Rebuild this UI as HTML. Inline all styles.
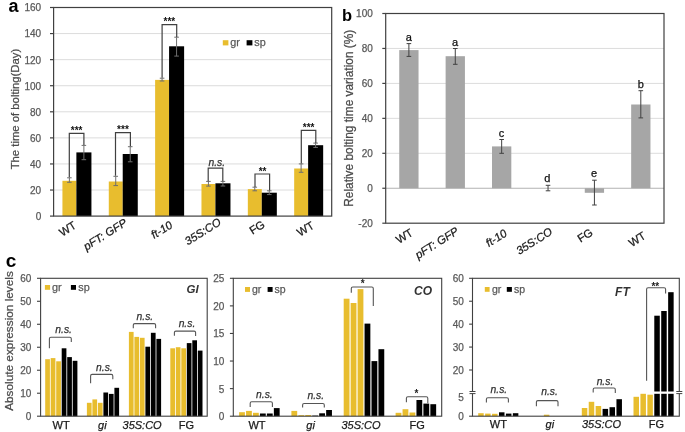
<!DOCTYPE html>
<html><head><meta charset="utf-8"><style>
html,body{margin:0;padding:0;background:#fff;}
svg{display:block;font-family:"Liberation Sans", sans-serif;will-change:transform;}
</style></head><body>
<svg width="685" height="432" viewBox="0 0 685 432">
<rect x="0" y="0" width="685" height="432" fill="#fff"/>
<line x1="53.60" y1="190.03" x2="331.70" y2="190.03" stroke="#DCDCDC" stroke-width="1" />
<line x1="53.60" y1="163.95" x2="331.70" y2="163.95" stroke="#DCDCDC" stroke-width="1" />
<line x1="53.60" y1="137.88" x2="331.70" y2="137.88" stroke="#DCDCDC" stroke-width="1" />
<line x1="53.60" y1="111.80" x2="331.70" y2="111.80" stroke="#DCDCDC" stroke-width="1" />
<line x1="53.60" y1="85.72" x2="331.70" y2="85.72" stroke="#DCDCDC" stroke-width="1" />
<line x1="53.60" y1="59.65" x2="331.70" y2="59.65" stroke="#DCDCDC" stroke-width="1" />
<line x1="53.60" y1="33.57" x2="331.70" y2="33.57" stroke="#DCDCDC" stroke-width="1" />
<rect x="62.43" y="180.80" width="13.95" height="35.30" fill="#E8BD2E"/>
<rect x="76.38" y="152.40" width="15.05" height="63.70" fill="#000000"/>
<rect x="108.78" y="181.50" width="13.95" height="34.60" fill="#E8BD2E"/>
<rect x="122.72" y="154.00" width="15.05" height="62.10" fill="#000000"/>
<rect x="155.12" y="79.90" width="13.95" height="136.20" fill="#E8BD2E"/>
<rect x="169.07" y="46.30" width="15.05" height="169.80" fill="#000000"/>
<rect x="201.47" y="184.00" width="13.95" height="32.10" fill="#E8BD2E"/>
<rect x="215.42" y="183.30" width="15.05" height="32.80" fill="#000000"/>
<rect x="247.83" y="189.10" width="13.95" height="27.00" fill="#E8BD2E"/>
<rect x="261.78" y="192.70" width="15.05" height="23.40" fill="#000000"/>
<rect x="294.17" y="168.50" width="13.95" height="47.60" fill="#E8BD2E"/>
<rect x="308.12" y="145.20" width="15.05" height="70.90" fill="#000000"/>
<line x1="69.38" y1="177.80" x2="69.38" y2="182.30" stroke="#6E6E6E" stroke-width="1" />
<line x1="67.08" y1="177.80" x2="71.67" y2="177.80" stroke="#6E6E6E" stroke-width="1" />
<line x1="67.08" y1="182.30" x2="71.67" y2="182.30" stroke="#6E6E6E" stroke-width="1" />
<line x1="83.88" y1="145.40" x2="83.88" y2="159.70" stroke="#6E6E6E" stroke-width="1" />
<line x1="81.58" y1="145.40" x2="86.17" y2="145.40" stroke="#6E6E6E" stroke-width="1" />
<line x1="81.58" y1="159.70" x2="86.17" y2="159.70" stroke="#6E6E6E" stroke-width="1" />
<line x1="115.72" y1="176.30" x2="115.72" y2="185.60" stroke="#6E6E6E" stroke-width="1" />
<line x1="113.42" y1="176.30" x2="118.02" y2="176.30" stroke="#6E6E6E" stroke-width="1" />
<line x1="113.42" y1="185.60" x2="118.02" y2="185.60" stroke="#6E6E6E" stroke-width="1" />
<line x1="130.22" y1="146.70" x2="130.22" y2="161.80" stroke="#6E6E6E" stroke-width="1" />
<line x1="127.92" y1="146.70" x2="132.53" y2="146.70" stroke="#6E6E6E" stroke-width="1" />
<line x1="127.92" y1="161.80" x2="132.53" y2="161.80" stroke="#6E6E6E" stroke-width="1" />
<line x1="162.07" y1="78.20" x2="162.07" y2="81.00" stroke="#6E6E6E" stroke-width="1" />
<line x1="159.77" y1="78.20" x2="164.38" y2="78.20" stroke="#6E6E6E" stroke-width="1" />
<line x1="159.77" y1="81.00" x2="164.38" y2="81.00" stroke="#6E6E6E" stroke-width="1" />
<line x1="176.57" y1="37.20" x2="176.57" y2="56.10" stroke="#6E6E6E" stroke-width="1" />
<line x1="174.27" y1="37.20" x2="178.88" y2="37.20" stroke="#6E6E6E" stroke-width="1" />
<line x1="174.27" y1="56.10" x2="178.88" y2="56.10" stroke="#6E6E6E" stroke-width="1" />
<line x1="208.42" y1="181.40" x2="208.42" y2="186.10" stroke="#6E6E6E" stroke-width="1" />
<line x1="206.12" y1="181.40" x2="210.72" y2="181.40" stroke="#6E6E6E" stroke-width="1" />
<line x1="206.12" y1="186.10" x2="210.72" y2="186.10" stroke="#6E6E6E" stroke-width="1" />
<line x1="222.92" y1="181.40" x2="222.92" y2="186.00" stroke="#6E6E6E" stroke-width="1" />
<line x1="220.62" y1="181.40" x2="225.22" y2="181.40" stroke="#6E6E6E" stroke-width="1" />
<line x1="220.62" y1="186.00" x2="225.22" y2="186.00" stroke="#6E6E6E" stroke-width="1" />
<line x1="254.78" y1="187.20" x2="254.78" y2="190.80" stroke="#6E6E6E" stroke-width="1" />
<line x1="252.47" y1="187.20" x2="257.07" y2="187.20" stroke="#6E6E6E" stroke-width="1" />
<line x1="252.47" y1="190.80" x2="257.07" y2="190.80" stroke="#6E6E6E" stroke-width="1" />
<line x1="269.28" y1="190.80" x2="269.28" y2="194.60" stroke="#6E6E6E" stroke-width="1" />
<line x1="266.98" y1="190.80" x2="271.58" y2="190.80" stroke="#6E6E6E" stroke-width="1" />
<line x1="266.98" y1="194.60" x2="271.58" y2="194.60" stroke="#6E6E6E" stroke-width="1" />
<line x1="301.12" y1="163.90" x2="301.12" y2="172.30" stroke="#6E6E6E" stroke-width="1" />
<line x1="298.82" y1="163.90" x2="303.43" y2="163.90" stroke="#6E6E6E" stroke-width="1" />
<line x1="298.82" y1="172.30" x2="303.43" y2="172.30" stroke="#6E6E6E" stroke-width="1" />
<line x1="315.62" y1="143.10" x2="315.62" y2="147.40" stroke="#6E6E6E" stroke-width="1" />
<line x1="313.32" y1="143.10" x2="317.93" y2="143.10" stroke="#6E6E6E" stroke-width="1" />
<line x1="313.32" y1="147.40" x2="317.93" y2="147.40" stroke="#6E6E6E" stroke-width="1" />
<path d="M69.30,177.30 L69.30,133.40 L83.90,133.40 L83.90,145.00" fill="none" stroke="#404040" stroke-width="1.2" stroke-linejoin="miter"/>
<text x="70.80" y="134.25" font-size="10" fill="#111" stroke="#111" stroke-width="0" font-weight="bold">***</text>
<path d="M115.50,175.80 L115.50,132.60 L130.40,132.60 L130.40,146.30" fill="none" stroke="#404040" stroke-width="1.2" stroke-linejoin="miter"/>
<text x="117.10" y="133.40" font-size="10" fill="#111" stroke="#111" stroke-width="0" font-weight="bold">***</text>
<path d="M162.10,77.80 L162.10,24.60 L176.70,24.60 L176.70,37.00" fill="none" stroke="#404040" stroke-width="1.2" stroke-linejoin="miter"/>
<text x="163.55" y="25.30" font-size="10" fill="#111" stroke="#111" stroke-width="0" font-weight="bold">***</text>
<path d="M208.20,181.20 L208.20,168.10 L222.80,168.10 L222.80,181.20" fill="none" stroke="#404040" stroke-width="1.2" stroke-linejoin="miter"/>
<text x="208.45" y="165.55" font-size="10.3" fill="#333" stroke="#333" stroke-width="0.25" font-style="italic">n.s.</text>
<path d="M255.00,187.00 L255.00,174.00 L269.60,174.00 L269.60,190.60" fill="none" stroke="#404040" stroke-width="1.2" stroke-linejoin="miter"/>
<text x="258.65" y="174.95" font-size="10" fill="#111" stroke="#111" stroke-width="0" font-weight="bold">**</text>
<path d="M301.30,163.60 L301.30,130.30 L315.80,130.30 L315.80,142.90" fill="none" stroke="#404040" stroke-width="1.2" stroke-linejoin="miter"/>
<text x="302.80" y="131.30" font-size="10" fill="#111" stroke="#111" stroke-width="0" font-weight="bold">***</text>
<rect x="53.60" y="7.50" width="278.10" height="208.60" fill="none" stroke="#404040" stroke-width="1.2"/>
<line x1="50.00" y1="216.10" x2="53.60" y2="216.10" stroke="#404040" stroke-width="1.2" />
<text x="41.20" y="220.00" font-size="10" fill="#595959" stroke="#595959" stroke-width="0.25" text-anchor="end" >0</text>
<line x1="50.00" y1="190.03" x2="53.60" y2="190.03" stroke="#404040" stroke-width="1.2" />
<text x="41.20" y="193.93" font-size="10" fill="#595959" stroke="#595959" stroke-width="0.25" text-anchor="end" >20</text>
<line x1="50.00" y1="163.95" x2="53.60" y2="163.95" stroke="#404040" stroke-width="1.2" />
<text x="41.20" y="167.85" font-size="10" fill="#595959" stroke="#595959" stroke-width="0.25" text-anchor="end" >40</text>
<line x1="50.00" y1="137.88" x2="53.60" y2="137.88" stroke="#404040" stroke-width="1.2" />
<text x="41.20" y="141.78" font-size="10" fill="#595959" stroke="#595959" stroke-width="0.25" text-anchor="end" >60</text>
<line x1="50.00" y1="111.80" x2="53.60" y2="111.80" stroke="#404040" stroke-width="1.2" />
<text x="41.20" y="115.70" font-size="10" fill="#595959" stroke="#595959" stroke-width="0.25" text-anchor="end" >80</text>
<line x1="50.00" y1="85.72" x2="53.60" y2="85.72" stroke="#404040" stroke-width="1.2" />
<text x="41.20" y="89.62" font-size="10" fill="#595959" stroke="#595959" stroke-width="0.25" text-anchor="end" >100</text>
<line x1="50.00" y1="59.65" x2="53.60" y2="59.65" stroke="#404040" stroke-width="1.2" />
<text x="41.20" y="63.55" font-size="10" fill="#595959" stroke="#595959" stroke-width="0.25" text-anchor="end" >120</text>
<line x1="50.00" y1="33.57" x2="53.60" y2="33.57" stroke="#404040" stroke-width="1.2" />
<text x="41.20" y="37.47" font-size="10" fill="#595959" stroke="#595959" stroke-width="0.25" text-anchor="end" >140</text>
<line x1="50.00" y1="7.50" x2="53.60" y2="7.50" stroke="#404040" stroke-width="1.2" />
<text x="41.20" y="11.40" font-size="10" fill="#595959" stroke="#595959" stroke-width="0.25" text-anchor="end" >160</text>
<rect x="222.80" y="40.20" width="5.60" height="5.20" fill="#E8BD2E"/>
<text x="230.20" y="46.00" font-size="10.8" fill="#595959" stroke="#595959" stroke-width="0.25" text-anchor="start" >gr</text>
<rect x="246.60" y="40.20" width="5.80" height="5.20" fill="#000000"/>
<text x="254.30" y="46.00" font-size="10.8" fill="#595959" stroke="#595959" stroke-width="0.25" text-anchor="start" >sp</text>
<text x="77.20" y="227.40" font-size="11.3" fill="#1a1a1a" stroke="#1a1a1a" stroke-width="0.25" text-anchor="end" transform="rotate(-32 77.20 227.40)">WT</text>
<text x="127.80" y="224.80" font-size="11.3" fill="#1a1a1a" stroke="#1a1a1a" stroke-width="0.25" text-anchor="end" font-style="italic" transform="rotate(-32 127.80 224.80)">pFT: GFP</text>
<text x="173.30" y="227.10" font-size="11.3" fill="#1a1a1a" stroke="#1a1a1a" stroke-width="0.25" text-anchor="end" font-style="italic" transform="rotate(-32 173.30 227.10)">ft-10</text>
<text x="221.90" y="224.20" font-size="11.3" fill="#1a1a1a" stroke="#1a1a1a" stroke-width="0.25" text-anchor="end" font-style="italic" transform="rotate(-32 221.90 224.20)">35S:CO</text>
<text x="265.80" y="226.50" font-size="11.3" fill="#1a1a1a" stroke="#1a1a1a" stroke-width="0.25" text-anchor="end" transform="rotate(-32 265.80 226.50)">FG</text>
<text x="315.00" y="227.50" font-size="11.3" fill="#1a1a1a" stroke="#1a1a1a" stroke-width="0.25" text-anchor="end" transform="rotate(-32 315.00 227.50)">WT</text>
<text x="18.70" y="109.05" font-size="11.3" fill="#4a4a4a" stroke="#4a4a4a" stroke-width="0.25" text-anchor="middle" transform="rotate(-90 18.70 109.05)">The time of bolting(Day)</text>
<text x="8.60" y="11.80" font-size="18" fill="#000" stroke="#000" stroke-width="0" font-weight="bold">a</text>
<line x1="385.70" y1="188.25" x2="664.00" y2="188.25" stroke="#B3B3B3" stroke-width="1" />
<line x1="385.70" y1="153.30" x2="664.00" y2="153.30" stroke="#DCDCDC" stroke-width="1" />
<line x1="385.70" y1="118.35" x2="664.00" y2="118.35" stroke="#DCDCDC" stroke-width="1" />
<line x1="385.70" y1="83.40" x2="664.00" y2="83.40" stroke="#DCDCDC" stroke-width="1" />
<line x1="385.70" y1="48.45" x2="664.00" y2="48.45" stroke="#DCDCDC" stroke-width="1" />
<rect x="399.24" y="50.10" width="19.30" height="138.15" fill="#A6A6A6"/>
<rect x="445.62" y="56.20" width="19.30" height="132.05" fill="#A6A6A6"/>
<rect x="492.01" y="146.40" width="19.30" height="41.85" fill="#A6A6A6"/>
<rect x="584.77" y="188.25" width="19.30" height="4.55" fill="#A6A6A6"/>
<rect x="631.16" y="104.50" width="19.30" height="83.75" fill="#A6A6A6"/>
<line x1="408.89" y1="43.60" x2="408.89" y2="56.40" stroke="#404040" stroke-width="1" />
<line x1="406.59" y1="43.60" x2="411.19" y2="43.60" stroke="#404040" stroke-width="1" />
<line x1="406.59" y1="56.40" x2="411.19" y2="56.40" stroke="#404040" stroke-width="1" />
<text x="405.64" y="40.60" font-size="11" fill="#111" stroke="#111" stroke-width="0.25">a</text>
<line x1="455.27" y1="48.50" x2="455.27" y2="64.30" stroke="#404040" stroke-width="1" />
<line x1="452.97" y1="48.50" x2="457.57" y2="48.50" stroke="#404040" stroke-width="1" />
<line x1="452.97" y1="64.30" x2="457.57" y2="64.30" stroke="#404040" stroke-width="1" />
<text x="452.02" y="45.50" font-size="11" fill="#111" stroke="#111" stroke-width="0.25">a</text>
<line x1="501.66" y1="139.50" x2="501.66" y2="153.30" stroke="#404040" stroke-width="1" />
<line x1="499.36" y1="139.50" x2="503.96" y2="139.50" stroke="#404040" stroke-width="1" />
<line x1="499.36" y1="153.30" x2="503.96" y2="153.30" stroke="#404040" stroke-width="1" />
<text x="498.86" y="136.50" font-size="11" fill="#111" stroke="#111" stroke-width="0.25">c</text>
<line x1="548.04" y1="185.30" x2="548.04" y2="190.80" stroke="#404040" stroke-width="1" />
<line x1="545.74" y1="185.30" x2="550.34" y2="185.30" stroke="#404040" stroke-width="1" />
<line x1="545.74" y1="190.80" x2="550.34" y2="190.80" stroke="#404040" stroke-width="1" />
<text x="544.34" y="182.30" font-size="11" fill="#111" stroke="#111" stroke-width="0.25">d</text>
<line x1="594.42" y1="180.20" x2="594.42" y2="205.00" stroke="#404040" stroke-width="1" />
<line x1="592.12" y1="180.20" x2="596.72" y2="180.20" stroke="#404040" stroke-width="1" />
<line x1="592.12" y1="205.00" x2="596.72" y2="205.00" stroke="#404040" stroke-width="1" />
<text x="591.12" y="177.20" font-size="11" fill="#111" stroke="#111" stroke-width="0.25">e</text>
<line x1="640.81" y1="90.70" x2="640.81" y2="117.90" stroke="#404040" stroke-width="1" />
<line x1="638.51" y1="90.70" x2="643.11" y2="90.70" stroke="#404040" stroke-width="1" />
<line x1="638.51" y1="117.90" x2="643.11" y2="117.90" stroke="#404040" stroke-width="1" />
<text x="637.66" y="87.70" font-size="11" fill="#111" stroke="#111" stroke-width="0.25">b</text>
<rect x="385.70" y="13.50" width="278.30" height="209.70" fill="none" stroke="#404040" stroke-width="1.2"/>
<line x1="382.30" y1="223.20" x2="385.70" y2="223.20" stroke="#404040" stroke-width="1.2" />
<text x="372.80" y="227.10" font-size="10" fill="#595959" stroke="#595959" stroke-width="0.25" text-anchor="end" >-20</text>
<line x1="382.30" y1="188.25" x2="385.70" y2="188.25" stroke="#404040" stroke-width="1.2" />
<text x="372.80" y="192.15" font-size="10" fill="#595959" stroke="#595959" stroke-width="0.25" text-anchor="end" >0</text>
<line x1="382.30" y1="153.30" x2="385.70" y2="153.30" stroke="#404040" stroke-width="1.2" />
<text x="372.80" y="157.20" font-size="10" fill="#595959" stroke="#595959" stroke-width="0.25" text-anchor="end" >20</text>
<line x1="382.30" y1="118.35" x2="385.70" y2="118.35" stroke="#404040" stroke-width="1.2" />
<text x="372.80" y="122.25" font-size="10" fill="#595959" stroke="#595959" stroke-width="0.25" text-anchor="end" >40</text>
<line x1="382.30" y1="83.40" x2="385.70" y2="83.40" stroke="#404040" stroke-width="1.2" />
<text x="372.80" y="87.30" font-size="10" fill="#595959" stroke="#595959" stroke-width="0.25" text-anchor="end" >60</text>
<line x1="382.30" y1="48.45" x2="385.70" y2="48.45" stroke="#404040" stroke-width="1.2" />
<text x="372.80" y="52.35" font-size="10" fill="#595959" stroke="#595959" stroke-width="0.25" text-anchor="end" >80</text>
<line x1="382.30" y1="13.50" x2="385.70" y2="13.50" stroke="#404040" stroke-width="1.2" />
<text x="372.80" y="17.40" font-size="10" fill="#595959" stroke="#595959" stroke-width="0.25" text-anchor="end" >100</text>
<text x="413.90" y="234.80" font-size="11.3" fill="#1a1a1a" stroke="#1a1a1a" stroke-width="0.25" text-anchor="end" transform="rotate(-32 413.90 234.80)">WT</text>
<text x="459.50" y="233.30" font-size="11.3" fill="#1a1a1a" stroke="#1a1a1a" stroke-width="0.25" text-anchor="end" font-style="italic" transform="rotate(-32 459.50 233.30)">pFT: GFP</text>
<text x="507.90" y="235.30" font-size="11.3" fill="#1a1a1a" stroke="#1a1a1a" stroke-width="0.25" text-anchor="end" font-style="italic" transform="rotate(-32 507.90 235.30)">ft-10</text>
<text x="553.30" y="233.70" font-size="11.3" fill="#1a1a1a" stroke="#1a1a1a" stroke-width="0.25" text-anchor="end" font-style="italic" transform="rotate(-32 553.30 233.70)">35S:CO</text>
<text x="593.80" y="234.50" font-size="11.3" fill="#1a1a1a" stroke="#1a1a1a" stroke-width="0.25" text-anchor="end" transform="rotate(-32 593.80 234.50)">FG</text>
<text x="646.60" y="237.90" font-size="11.3" fill="#1a1a1a" stroke="#1a1a1a" stroke-width="0.25" text-anchor="end" transform="rotate(-32 646.60 237.90)">WT</text>
<text x="353.30" y="118.25" font-size="11.9" fill="#4a4a4a" stroke="#4a4a4a" stroke-width="0.25" text-anchor="middle" transform="rotate(-90 353.30 118.25)">Relative bolting time variation (%)</text>
<text x="341.90" y="20.55" font-size="16.5" fill="#000" stroke="#000" stroke-width="0" font-weight="bold">b</text>
<line x1="37.00" y1="416.20" x2="40.60" y2="416.20" stroke="#404040" stroke-width="1.1" />
<text x="31.40" y="420.10" font-size="10" fill="#595959" stroke="#595959" stroke-width="0.25" text-anchor="end" >0</text>
<line x1="37.00" y1="393.22" x2="40.60" y2="393.22" stroke="#404040" stroke-width="1.1" />
<text x="31.40" y="397.12" font-size="10" fill="#595959" stroke="#595959" stroke-width="0.25" text-anchor="end" >10</text>
<line x1="37.00" y1="370.23" x2="40.60" y2="370.23" stroke="#404040" stroke-width="1.1" />
<text x="31.40" y="374.13" font-size="10" fill="#595959" stroke="#595959" stroke-width="0.25" text-anchor="end" >20</text>
<line x1="37.00" y1="347.25" x2="40.60" y2="347.25" stroke="#404040" stroke-width="1.1" />
<text x="31.40" y="351.15" font-size="10" fill="#595959" stroke="#595959" stroke-width="0.25" text-anchor="end" >30</text>
<line x1="37.00" y1="324.27" x2="40.60" y2="324.27" stroke="#404040" stroke-width="1.1" />
<text x="31.40" y="328.17" font-size="10" fill="#595959" stroke="#595959" stroke-width="0.25" text-anchor="end" >40</text>
<line x1="37.00" y1="301.28" x2="40.60" y2="301.28" stroke="#404040" stroke-width="1.1" />
<text x="31.40" y="305.18" font-size="10" fill="#595959" stroke="#595959" stroke-width="0.25" text-anchor="end" >50</text>
<line x1="37.00" y1="278.30" x2="40.60" y2="278.30" stroke="#404040" stroke-width="1.1" />
<text x="31.40" y="282.20" font-size="10" fill="#595959" stroke="#595959" stroke-width="0.25" text-anchor="end" >60</text>
<rect x="45.20" y="359.20" width="4.70" height="57.00" fill="#E8BD2E"/>
<rect x="50.70" y="358.10" width="4.70" height="58.10" fill="#E8BD2E"/>
<rect x="56.20" y="361.30" width="4.70" height="54.90" fill="#E8BD2E"/>
<rect x="61.70" y="348.30" width="4.70" height="67.90" fill="#000000"/>
<rect x="67.20" y="357.10" width="4.70" height="59.10" fill="#000000"/>
<rect x="72.70" y="360.80" width="4.70" height="55.40" fill="#000000"/>
<rect x="86.90" y="402.80" width="4.70" height="13.40" fill="#E8BD2E"/>
<rect x="92.40" y="399.40" width="4.70" height="16.80" fill="#E8BD2E"/>
<rect x="97.90" y="402.80" width="4.70" height="13.40" fill="#E8BD2E"/>
<rect x="103.40" y="392.50" width="4.70" height="23.70" fill="#000000"/>
<rect x="108.90" y="393.90" width="4.70" height="22.30" fill="#000000"/>
<rect x="114.40" y="387.80" width="4.70" height="28.40" fill="#000000"/>
<rect x="128.90" y="331.90" width="4.70" height="84.30" fill="#E8BD2E"/>
<rect x="134.40" y="336.90" width="4.70" height="79.30" fill="#E8BD2E"/>
<rect x="139.90" y="337.80" width="4.70" height="78.40" fill="#E8BD2E"/>
<rect x="145.40" y="346.70" width="4.70" height="69.50" fill="#000000"/>
<rect x="150.90" y="332.80" width="4.70" height="83.40" fill="#000000"/>
<rect x="156.40" y="338.90" width="4.70" height="77.30" fill="#000000"/>
<rect x="170.30" y="348.30" width="4.70" height="67.90" fill="#E8BD2E"/>
<rect x="175.80" y="347.20" width="4.70" height="69.00" fill="#E8BD2E"/>
<rect x="181.30" y="348.30" width="4.70" height="67.90" fill="#E8BD2E"/>
<rect x="186.80" y="343.10" width="4.70" height="73.10" fill="#000000"/>
<rect x="192.30" y="340.30" width="4.70" height="75.90" fill="#000000"/>
<rect x="197.80" y="350.60" width="4.70" height="65.60" fill="#000000"/>
<rect x="40.60" y="278.30" width="166.60" height="137.90" fill="none" stroke="#404040" stroke-width="1.1"/>
<path d="M49.40,348.30 L49.40,338.70 Q49.40,337.20 50.90,337.20 L69.80,337.20 Q71.30,337.20 71.30,338.70 L71.30,342.00" fill="none" stroke="#555" stroke-width="1.1" />
<text x="55.30" y="332.50" font-size="10.3" fill="#333" stroke="#333" stroke-width="0.25" font-style="italic">n.s.</text>
<path d="M90.60,383.30 L90.60,375.90 Q90.60,374.40 92.10,374.40 L111.30,374.40 Q112.80,374.40 112.80,375.90 L112.80,379.20" fill="none" stroke="#555" stroke-width="1.1" />
<text x="96.10" y="370.50" font-size="10.3" fill="#333" stroke="#333" stroke-width="0.25" font-style="italic">n.s.</text>
<path d="M133.30,328.30 L133.30,325.10 Q133.30,323.60 134.80,323.60 L154.10,323.60 Q155.60,323.60 155.60,325.10 L155.60,328.30" fill="none" stroke="#555" stroke-width="1.1" />
<text x="136.60" y="320.10" font-size="10.3" fill="#333" stroke="#333" stroke-width="0.25" font-style="italic">n.s.</text>
<path d="M174.40,335.80 L174.40,332.60 Q174.40,331.10 175.90,331.10 L194.10,331.10 Q195.60,331.10 195.60,332.60 L195.60,336.10" fill="none" stroke="#555" stroke-width="1.1" />
<text x="178.65" y="327.05" font-size="10.3" fill="#333" stroke="#333" stroke-width="0.25" font-style="italic">n.s.</text>
<rect x="44.90" y="285.00" width="5.20" height="4.80" fill="#E8BD2E"/>
<text x="52.00" y="290.80" font-size="10.8" fill="#595959" stroke="#595959" stroke-width="0.25" text-anchor="start" >gr</text>
<rect x="70.90" y="285.00" width="5.10" height="4.80" fill="#000000"/>
<text x="78.30" y="290.80" font-size="10.8" fill="#595959" stroke="#595959" stroke-width="0.25" text-anchor="start" >sp</text>
<text x="186.60" y="292.50" font-size="11.5" fill="#333" stroke="#333" stroke-width="0" font-style="italic" font-weight="bold">GI</text>
<text x="61.10" y="428.60" font-size="11" fill="#1a1a1a" stroke="#1a1a1a" stroke-width="0.25" text-anchor="middle" >WT</text>
<text x="102.30" y="428.60" font-size="11" fill="#1a1a1a" stroke="#1a1a1a" stroke-width="0.25" text-anchor="middle" font-style="italic" >gi</text>
<text x="142.10" y="428.60" font-size="11" fill="#1a1a1a" stroke="#1a1a1a" stroke-width="0.25" text-anchor="middle" font-style="italic" >35S:CO</text>
<text x="186.40" y="428.60" font-size="11" fill="#1a1a1a" stroke="#1a1a1a" stroke-width="0.25" text-anchor="middle" >FG</text>
<line x1="229.90" y1="416.20" x2="233.30" y2="416.20" stroke="#404040" stroke-width="1.1" />
<text x="224.40" y="420.10" font-size="10" fill="#595959" stroke="#595959" stroke-width="0.25" text-anchor="end" >0</text>
<line x1="229.90" y1="388.62" x2="233.30" y2="388.62" stroke="#404040" stroke-width="1.1" />
<text x="224.40" y="392.52" font-size="10" fill="#595959" stroke="#595959" stroke-width="0.25" text-anchor="end" >5</text>
<line x1="229.90" y1="361.04" x2="233.30" y2="361.04" stroke="#404040" stroke-width="1.1" />
<text x="224.40" y="364.94" font-size="10" fill="#595959" stroke="#595959" stroke-width="0.25" text-anchor="end" >10</text>
<line x1="229.90" y1="333.46" x2="233.30" y2="333.46" stroke="#404040" stroke-width="1.1" />
<text x="224.40" y="337.36" font-size="10" fill="#595959" stroke="#595959" stroke-width="0.25" text-anchor="end" >15</text>
<line x1="229.90" y1="305.88" x2="233.30" y2="305.88" stroke="#404040" stroke-width="1.1" />
<text x="224.40" y="309.78" font-size="10" fill="#595959" stroke="#595959" stroke-width="0.25" text-anchor="end" >20</text>
<line x1="229.90" y1="278.30" x2="233.30" y2="278.30" stroke="#404040" stroke-width="1.1" />
<text x="224.40" y="282.20" font-size="10" fill="#595959" stroke="#595959" stroke-width="0.25" text-anchor="end" >25</text>
<rect x="239.10" y="412.20" width="5.80" height="4.00" fill="#E8BD2E"/>
<rect x="246.05" y="410.90" width="5.80" height="5.30" fill="#E8BD2E"/>
<rect x="253.00" y="412.80" width="5.80" height="3.40" fill="#E8BD2E"/>
<rect x="259.95" y="413.50" width="5.80" height="2.70" fill="#000000"/>
<rect x="266.90" y="413.50" width="5.80" height="2.70" fill="#000000"/>
<rect x="273.85" y="408.10" width="5.80" height="8.10" fill="#000000"/>
<rect x="291.40" y="410.90" width="5.80" height="5.30" fill="#E8BD2E"/>
<rect x="298.35" y="415.20" width="5.80" height="1.00" fill="#E8BD2E"/>
<rect x="305.30" y="415.00" width="5.80" height="1.20" fill="#E8BD2E"/>
<rect x="312.25" y="415.60" width="5.80" height="0.60" fill="#000000"/>
<rect x="319.20" y="413.30" width="5.80" height="2.90" fill="#000000"/>
<rect x="326.15" y="410.00" width="5.80" height="6.20" fill="#000000"/>
<rect x="343.70" y="298.70" width="5.80" height="117.50" fill="#E8BD2E"/>
<rect x="350.65" y="303.00" width="5.80" height="113.20" fill="#E8BD2E"/>
<rect x="357.60" y="289.10" width="5.80" height="127.10" fill="#E8BD2E"/>
<rect x="364.55" y="323.60" width="5.80" height="92.60" fill="#000000"/>
<rect x="371.50" y="361.10" width="5.80" height="55.10" fill="#000000"/>
<rect x="378.45" y="349.20" width="5.80" height="67.00" fill="#000000"/>
<rect x="395.60" y="412.80" width="5.80" height="3.40" fill="#E8BD2E"/>
<rect x="402.55" y="409.20" width="5.80" height="7.00" fill="#E8BD2E"/>
<rect x="409.50" y="412.50" width="5.80" height="3.70" fill="#E8BD2E"/>
<rect x="416.45" y="400.00" width="5.80" height="16.20" fill="#000000"/>
<rect x="423.40" y="403.60" width="5.80" height="12.60" fill="#000000"/>
<rect x="430.35" y="404.20" width="5.80" height="12.00" fill="#000000"/>
<rect x="233.30" y="278.30" width="208.40" height="137.90" fill="none" stroke="#404040" stroke-width="1.1"/>
<path d="M250.20,407.00 L250.20,403.20 Q250.20,401.70 251.70,401.70 L270.90,401.70 Q272.40,401.70 272.40,403.20 L272.40,407.00" fill="none" stroke="#555" stroke-width="1.1" />
<text x="256.05" y="398.40" font-size="10.3" fill="#333" stroke="#333" stroke-width="0.25" font-style="italic">n.s.</text>
<path d="M302.60,407.60 L302.60,405.00 Q302.60,403.50 304.10,403.50 L322.80,403.50 Q324.30,403.50 324.30,405.00 L324.30,407.60" fill="none" stroke="#555" stroke-width="1.1" />
<text x="307.45" y="398.60" font-size="10.3" fill="#333" stroke="#333" stroke-width="0.25" font-style="italic">n.s.</text>
<path d="M351.30,292.80 L351.30,288.50 Q351.30,287.00 352.80,287.00 L371.80,287.00 Q373.30,287.00 373.30,288.50 L373.30,306.10" fill="none" stroke="#555" stroke-width="1.1" />
<text x="360.70" y="287.40" font-size="10" fill="#222" stroke="#222" stroke-width="0" font-weight="bold">*</text>
<path d="M406.40,402.20 L406.40,398.20 Q406.40,396.70 407.90,396.70 L426.30,396.70 Q427.80,396.70 427.80,398.20 L427.80,403.30" fill="none" stroke="#555" stroke-width="1.1" />
<text x="414.45" y="397.45" font-size="10" fill="#222" stroke="#222" stroke-width="0" font-weight="bold">*</text>
<rect x="245.00" y="287.00" width="5.00" height="4.90" fill="#E8BD2E"/>
<text x="252.00" y="292.60" font-size="10.5" fill="#595959" stroke="#595959" stroke-width="0.25" text-anchor="start" >gr</text>
<rect x="267.60" y="287.00" width="5.00" height="4.90" fill="#000000"/>
<text x="274.40" y="292.60" font-size="10.5" fill="#595959" stroke="#595959" stroke-width="0.25" text-anchor="start" >sp</text>
<text x="414.10" y="294.55" font-size="12" fill="#333" stroke="#333" stroke-width="0" font-style="italic" font-weight="bold">CO</text>
<text x="257.00" y="428.90" font-size="11" fill="#1a1a1a" stroke="#1a1a1a" stroke-width="0.25" text-anchor="middle" >WT</text>
<text x="310.60" y="428.90" font-size="11" fill="#1a1a1a" stroke="#1a1a1a" stroke-width="0.25" text-anchor="middle" font-style="italic" >gi</text>
<text x="361.00" y="428.90" font-size="11" fill="#1a1a1a" stroke="#1a1a1a" stroke-width="0.25" text-anchor="middle" font-style="italic" >35S:CO</text>
<text x="417.20" y="428.90" font-size="11" fill="#1a1a1a" stroke="#1a1a1a" stroke-width="0.25" text-anchor="middle" >FG</text>
<line x1="469.10" y1="370.00" x2="472.50" y2="370.00" stroke="#404040" stroke-width="1.1" />
<text x="463.90" y="373.90" font-size="10" fill="#595959" stroke="#595959" stroke-width="0.25" text-anchor="end" >20</text>
<line x1="469.10" y1="347.07" x2="472.50" y2="347.07" stroke="#404040" stroke-width="1.1" />
<text x="463.90" y="350.97" font-size="10" fill="#595959" stroke="#595959" stroke-width="0.25" text-anchor="end" >30</text>
<line x1="469.10" y1="324.15" x2="472.50" y2="324.15" stroke="#404040" stroke-width="1.1" />
<text x="463.90" y="328.05" font-size="10" fill="#595959" stroke="#595959" stroke-width="0.25" text-anchor="end" >40</text>
<line x1="469.10" y1="301.23" x2="472.50" y2="301.23" stroke="#404040" stroke-width="1.1" />
<text x="463.90" y="305.12" font-size="10" fill="#595959" stroke="#595959" stroke-width="0.25" text-anchor="end" >50</text>
<line x1="469.10" y1="278.30" x2="472.50" y2="278.30" stroke="#404040" stroke-width="1.1" />
<text x="463.90" y="282.20" font-size="10" fill="#595959" stroke="#595959" stroke-width="0.25" text-anchor="end" >60</text>
<line x1="469.10" y1="416.20" x2="472.50" y2="416.20" stroke="#404040" stroke-width="1.1" />
<text x="463.90" y="420.10" font-size="10" fill="#595959" stroke="#595959" stroke-width="0.25" text-anchor="end" >0</text>
<text x="463.90" y="400.80" font-size="10" fill="#595959" stroke="#595959" stroke-width="0.25" text-anchor="end" >5</text>
<rect x="478.20" y="413.20" width="5.50" height="3.00" fill="#E8BD2E"/>
<rect x="485.13" y="413.60" width="5.50" height="2.60" fill="#E8BD2E"/>
<rect x="492.06" y="413.80" width="5.50" height="2.40" fill="#E8BD2E"/>
<rect x="498.99" y="412.30" width="5.50" height="3.90" fill="#000000"/>
<rect x="505.92" y="413.60" width="5.50" height="2.60" fill="#000000"/>
<rect x="512.85" y="413.20" width="5.50" height="3.00" fill="#000000"/>
<rect x="530.00" y="416.20" width="5.50" height="0.00" fill="#E8BD2E"/>
<rect x="536.93" y="416.20" width="5.50" height="0.00" fill="#E8BD2E"/>
<rect x="543.86" y="414.70" width="5.50" height="1.50" fill="#E8BD2E"/>
<rect x="550.79" y="416.20" width="5.50" height="0.00" fill="#000000"/>
<rect x="557.72" y="416.20" width="5.50" height="0.00" fill="#000000"/>
<rect x="564.65" y="416.20" width="5.50" height="0.00" fill="#000000"/>
<rect x="581.80" y="408.00" width="5.50" height="8.20" fill="#E8BD2E"/>
<rect x="588.73" y="401.80" width="5.50" height="14.40" fill="#E8BD2E"/>
<rect x="595.66" y="406.00" width="5.50" height="10.20" fill="#E8BD2E"/>
<rect x="602.59" y="408.90" width="5.50" height="7.30" fill="#000000"/>
<rect x="609.52" y="407.20" width="5.50" height="9.00" fill="#000000"/>
<rect x="616.45" y="399.20" width="5.50" height="17.00" fill="#000000"/>
<rect x="633.50" y="396.80" width="5.50" height="19.40" fill="#E8BD2E"/>
<rect x="640.43" y="393.80" width="5.50" height="22.40" fill="#E8BD2E"/>
<rect x="647.36" y="394.70" width="5.50" height="21.50" fill="#E8BD2E"/>
<rect x="654.29" y="315.70" width="5.50" height="100.50" fill="#000000"/>
<rect x="661.22" y="311.00" width="5.50" height="105.20" fill="#000000"/>
<rect x="668.15" y="292.20" width="5.50" height="124.00" fill="#000000"/>
<rect x="653.50" y="391.50" width="21.00" height="2.30" fill="#ffffff"/>
<rect x="472.50" y="278.30" width="206.80" height="137.90" fill="none" stroke="#404040" stroke-width="1.1"/>
<rect x="469.50" y="391.60" width="6.00" height="2.00" fill="#ffffff"/>
<line x1="469.50" y1="391.50" x2="475.50" y2="391.50" stroke="#404040" stroke-width="1" />
<line x1="469.50" y1="393.60" x2="475.50" y2="393.60" stroke="#404040" stroke-width="1" />
<rect x="676.30" y="391.60" width="6.00" height="2.00" fill="#ffffff"/>
<line x1="676.30" y1="391.50" x2="682.30" y2="391.50" stroke="#404040" stroke-width="1" />
<line x1="676.30" y1="393.60" x2="682.30" y2="393.60" stroke="#404040" stroke-width="1" />
<path d="M486.40,402.50 L486.40,399.20 Q486.40,397.70 487.90,397.70 L506.90,397.70 Q508.40,397.70 508.40,399.20 L508.40,402.50" fill="none" stroke="#555" stroke-width="1.1" />
<text x="490.60" y="393.45" font-size="10.3" fill="#333" stroke="#333" stroke-width="0.25" font-style="italic">n.s.</text>
<path d="M536.40,406.20 L536.40,402.10 Q536.40,400.60 537.90,400.60 L556.50,400.60 Q558.00,400.60 558.00,402.10 L558.00,406.20" fill="none" stroke="#555" stroke-width="1.1" />
<text x="541.20" y="395.25" font-size="10.3" fill="#333" stroke="#333" stroke-width="0.25" font-style="italic">n.s.</text>
<path d="M593.20,392.60 L593.20,389.50 Q593.20,388.00 594.70,388.00 L613.80,388.00 Q615.30,388.00 615.30,389.50 L615.30,392.90" fill="none" stroke="#555" stroke-width="1.1" />
<text x="596.65" y="385.00" font-size="10.3" fill="#333" stroke="#333" stroke-width="0.25" font-style="italic">n.s.</text>
<path d="M646.60,380.80 L646.60,289.30 Q646.60,287.80 648.10,287.80 L664.10,287.80 Q665.60,287.80 665.60,289.30 L665.60,293.50" fill="none" stroke="#555" stroke-width="1.1" />
<text x="651.45" y="290.10" font-size="10" fill="#222" stroke="#222" stroke-width="0" font-weight="bold">**</text>
<rect x="484.80" y="287.00" width="4.80" height="4.80" fill="#E8BD2E"/>
<text x="492.00" y="292.50" font-size="10.5" fill="#595959" stroke="#595959" stroke-width="0.25" text-anchor="start" >gr</text>
<rect x="506.80" y="287.00" width="5.10" height="4.80" fill="#000000"/>
<text x="514.00" y="292.50" font-size="10.5" fill="#595959" stroke="#595959" stroke-width="0.25" text-anchor="start" >sp</text>
<text x="615.10" y="295.50" font-size="12" fill="#333" stroke="#333" stroke-width="0" font-style="italic" font-weight="bold">FT</text>
<text x="498.40" y="428.40" font-size="11" fill="#1a1a1a" stroke="#1a1a1a" stroke-width="0.25" text-anchor="middle" >WT</text>
<text x="549.80" y="428.40" font-size="11" fill="#1a1a1a" stroke="#1a1a1a" stroke-width="0.25" text-anchor="middle" font-style="italic" >gi</text>
<text x="601.50" y="428.40" font-size="11" fill="#1a1a1a" stroke="#1a1a1a" stroke-width="0.25" text-anchor="middle" font-style="italic" >35S:CO</text>
<text x="656.40" y="428.40" font-size="11" fill="#1a1a1a" stroke="#1a1a1a" stroke-width="0.25" text-anchor="middle" >FG</text>
<text x="12.80" y="341.00" font-size="11.8" fill="#4a4a4a" stroke="#4a4a4a" stroke-width="0.25" text-anchor="middle" transform="rotate(-90 12.80 341.00)">Absolute expression levels</text>
<text x="5.80" y="267.45" font-size="19" fill="#000" stroke="#000" stroke-width="0" font-weight="bold">c</text>
</svg>
</body></html>
